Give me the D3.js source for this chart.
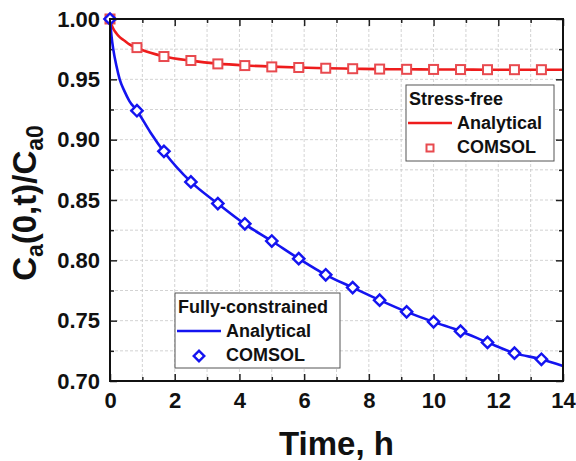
<!DOCTYPE html>
<html><head><meta charset="utf-8">
<script src="https://cdn.jsdelivr.net/npm/d3@7"></script>
<style>
html,body{margin:0;padding:0;background:#fff;}
svg{display:block;font-family:"Liberation Sans",Arial,sans-serif;font-weight:bold;}
</style></head>
<body>
<svg id="chart" width="576" height="461"></svg>
<script>
// ---- data ----
const comsolTime = [0, 0.833, 1.667, 2.5, 3.333, 4.167, 5, 5.833, 6.667, 7.5, 8.333, 9.167, 10, 10.833, 11.667, 12.5, 13.333];
const stressFreeComsol = [1.0, 0.9763, 0.9689, 0.9656, 0.9628, 0.9614, 0.9603, 0.9598, 0.9592, 0.9588, 0.9585, 0.9583, 0.9582, 0.9581, 0.958, 0.958, 0.958];
const constrainedComsol = [1.0, 0.924, 0.8903, 0.865, 0.847, 0.8303, 0.816, 0.8014, 0.788, 0.7774, 0.767, 0.7573, 0.749, 0.7413, 0.732, 0.7231, 0.718];
const analyticTime = [0, 0.05, 0.1, 0.2, 0.3, 0.45, 0.6, 0.833, 1.25, 1.667, 2.5, 3.333, 4.167, 5, 5.833, 6.667, 7.5, 8.333, 9.167, 10, 10.833, 11.667, 12.5, 13.333, 14];
const stressFreeAnalytical = [1.0, 0.995, 0.992, 0.988, 0.985, 0.982, 0.979, 0.976, 0.972, 0.969, 0.9655, 0.963, 0.9615, 0.9605, 0.9598, 0.9592, 0.9588, 0.9585, 0.9583, 0.9582, 0.9581, 0.958, 0.958, 0.958, 0.958];
const constrainedAnalytical = [1.0, 0.985, 0.975, 0.961, 0.950, 0.940, 0.932, 0.924, 0.906, 0.890, 0.865, 0.847, 0.830, 0.816, 0.8014, 0.788, 0.7774, 0.767, 0.7573, 0.749, 0.7413, 0.732, 0.7231, 0.718, 0.7125];
const xTicks = [0, 2, 4, 6, 8, 10, 12, 14];
const yTicks = [0.70, 0.75, 0.80, 0.85, 0.90, 0.95, 1.00];
const xMinor = [1, 3, 5, 7, 9, 11, 13];
const yMinor = [0.725, 0.775, 0.825, 0.875, 0.925, 0.975];

// ---- layout ----
const L = 110, R = 563, T = 19, B = 381;
const RED = "#ee1c1c", RED_M = "#e84a4f", BLUE = "#1414f0";
const svg = d3.select("#chart");
const x = d3.scaleLinear().domain([0, 14]).range([L, R]);
const y = d3.scaleLinear().domain([0.70, 1.00]).range([B, T]);

// grid
const grid = svg.append("g").attr("stroke", "#c8c8c8").attr("stroke-width", 0.8).attr("stroke-dasharray", "3,2");
xTicks.concat(xMinor).forEach(v => { if (v > 0 && v < 14) grid.append("line").attr("x1", x(v)).attr("x2", x(v)).attr("y1", T).attr("y2", B); });
yTicks.concat(yMinor).forEach(v => { if (v > 0.70 && v < 1.0) grid.append("line").attr("x1", L).attr("x2", R).attr("y1", y(v)).attr("y2", y(v)); });

// axes with inward ticks
const axB = svg.append("g").attr("transform", `translate(0,${B})`)
  .call(d3.axisBottom(x).tickValues(xTicks).tickSize(-7).tickPadding(11).tickFormat(d3.format("d")));
const axBm = svg.append("g").attr("transform", `translate(0,${B})`)
  .call(d3.axisBottom(x).tickValues(xMinor).tickSize(-4).tickFormat(""));
const axT = svg.append("g").attr("transform", `translate(0,${T})`)
  .call(d3.axisTop(x).tickValues(xTicks).tickSize(-7).tickFormat(""));
const axTm = svg.append("g").attr("transform", `translate(0,${T})`)
  .call(d3.axisTop(x).tickValues(xMinor).tickSize(-4).tickFormat(""));
const axL = svg.append("g").attr("transform", `translate(${L},0)`)
  .call(d3.axisLeft(y).tickValues(yTicks).tickSize(-7).tickPadding(10).tickFormat(d3.format(".2f")));
const axLm = svg.append("g").attr("transform", `translate(${L},0)`)
  .call(d3.axisLeft(y).tickValues(yMinor).tickSize(-4).tickFormat(""));
const axR = svg.append("g").attr("transform", `translate(${R},0)`)
  .call(d3.axisRight(y).tickValues(yTicks).tickSize(-7).tickFormat(""));
const axRm = svg.append("g").attr("transform", `translate(${R},0)`)
  .call(d3.axisRight(y).tickValues(yMinor).tickSize(-4).tickFormat(""));
[axB, axBm, axT, axTm, axL, axLm, axR, axRm].forEach(g => {
  g.select(".domain").remove();
  g.selectAll(".tick line").attr("stroke", "#222").attr("stroke-width", 1.5);
  g.selectAll("text").attr("font-size", 22).attr("font-weight", "bold").attr("fill", "#111")
   .attr("font-family", '"Liberation Sans",Arial,sans-serif');
});

// lines
const line = d3.line().x(d => x(d[0])).y(d => y(d[1])).curve(d3.curveMonotoneX);
const sfA = analyticTime.map((t, i) => [t, stressFreeAnalytical[i]]);
const fcA = analyticTime.map((t, i) => [t, constrainedAnalytical[i]]);
svg.append("path").datum(sfA).attr("d", line).attr("fill", "none").attr("stroke", RED).attr("stroke-width", 2.6);
// squares
const sq = 9;
svg.append("g").selectAll("rect").data(comsolTime.map((t, i) => [t, stressFreeComsol[i]])).join("rect")
  .attr("x", d => x(d[0]) - sq / 2).attr("y", d => y(d[1]) - sq / 2).attr("width", sq).attr("height", sq)
  .attr("fill", "#fff").attr("stroke", RED_M).attr("stroke-width", 2);
svg.append("path").datum(fcA).attr("d", line).attr("fill", "none").attr("stroke", BLUE).attr("stroke-width", 2.6);
const dia = d3.symbol().type(d3.symbolSquare).size(64);
svg.append("g").selectAll("path").data(comsolTime.map((t, i) => [t, constrainedComsol[i]])).join("path")
  .attr("d", dia).attr("transform", d => `translate(${x(d[0])},${y(d[1])}) rotate(45)`)
  .attr("fill", "#fff").attr("stroke", BLUE).attr("stroke-width", 2.4);

// frame
svg.append("rect").attr("x", L).attr("y", T).attr("width", R - L).attr("height", B - T)
  .attr("fill", "none").attr("stroke", "#111").attr("stroke-width", 2);

// axis titles
svg.append("text").attr("x", (L + R) / 2).attr("y", 455).attr("text-anchor", "middle")
  .attr("font-size", 33).attr("fill", "#111").text("Time, h");
const yl = svg.append("text").attr("transform", `translate(36,${(T + B) / 2 + 3}) rotate(-90)`)
  .attr("text-anchor", "middle").attr("font-size", 33).attr("fill", "#111");
yl.append("tspan").text("C");
yl.append("tspan").attr("font-size", 23).attr("dy", 7).text("a");
yl.append("tspan").attr("dy", -7).text("(0,t)/C");
yl.append("tspan").attr("font-size", 23).attr("dy", 7).text("a0");

// legends
function legend(bx, by, bw, bh, title, color, markerType) {
  const g = svg.append("g");
  g.append("rect").attr("x", bx).attr("y", by).attr("width", bw).attr("height", bh)
    .attr("fill", "#fff").attr("stroke", "#555").attr("stroke-width", 1);
  g.append("text").attr("x", bx + 3).attr("y", by + 20).attr("font-size", 18).attr("fill", "#111").text(title);
  g.append("line").attr("x1", bx + 2).attr("x2", bx + 46).attr("y1", by + 38).attr("y2", by + 38)
    .attr("stroke", color).attr("stroke-width", 2.6);
  g.append("text").attr("x", bx + 51).attr("y", by + 44).attr("font-size", 18).attr("fill", "#111").text("Analytical");
  g.append("text").attr("x", bx + 51).attr("y", by + 68).attr("font-size", 18).attr("fill", "#111").text("COMSOL");
  const mx = bx + 24, my = by + 63;
  if (markerType === "square") {
    g.append("rect").attr("x", mx - 3.5).attr("y", my - 3.5).attr("width", 7).attr("height", 7)
      .attr("fill", "#fff").attr("stroke", RED_M).attr("stroke-width", 2);
  } else {
    g.append("path").attr("d", d3.symbol().type(d3.symbolSquare).size(56))
      .attr("transform", `translate(${mx},${my}) rotate(45)`)
      .attr("fill", "#fff").attr("stroke", BLUE).attr("stroke-width", 2.4);
  }
}
legend(406, 85, 148, 76, "Stress-free", RED, "square");
legend(175, 293, 165, 75, "Fully-constrained", BLUE, "diamond");
</script>
</body></html>
